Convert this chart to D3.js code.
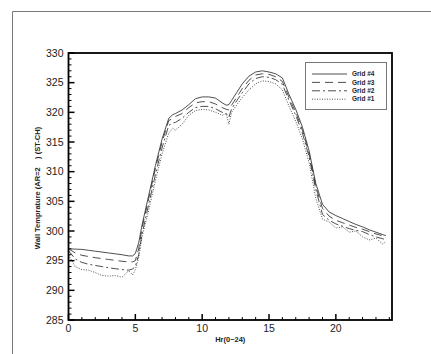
<!DOCTYPE html>
<html><head><meta charset="utf-8">
<script src="https://cdn.jsdelivr.net/npm/d3@7"></script>
<style>body{margin:0;background:#fff;} svg{display:block;font-family:"Liberation Sans",Arial,sans-serif;}</style>
</head><body>
<svg id="c" width="431" height="354"></svg>
<script>
const hours = [0,0.5,1,1.5,2,2.5,3,3.5,4,4.5,4.8,5,5.25,5.5,6,6.5,7,7.5,7.8,8,8.5,9,9.5,10,10.5,11,11.5,11.8,12,12.2,12.6,13,13.5,14,14.5,15,15.5,16,16.5,17,17.5,18,18.5,19,19.5,20,20.5,21,21.5,22,22.5,23,23.5,23.75];
const grid4 = [297.0,296.95,296.9,296.75,296.6,296.45,296.3,296.15,296.0,295.8,295.8,296.2,298.0,301.0,306.0,311.0,315.5,319.0,319.6,319.8,320.4,321.3,322.3,322.6,322.6,322.4,321.6,321.2,321.3,322.0,323.4,324.8,326.1,326.8,327.0,326.8,326.5,325.8,323.0,320.5,317.5,313.5,308.0,304.5,303.2,302.6,302.1,301.6,301.1,300.7,300.2,299.8,299.4,299.2];
const grid3 = [297.0,296.3,295.9,295.7,295.5,295.35,295.2,295.05,294.9,294.8,294.8,295.0,297.0,300.5,305.5,310.5,315.0,318.6,319.0,319.3,319.8,320.8,321.6,321.8,321.8,321.4,320.8,320.5,320.4,321.2,322.6,324.0,325.4,326.3,326.5,326.4,326.0,325.2,322.5,320.0,317.0,313.0,307.5,303.8,302.5,301.8,301.4,301.0,300.6,300.3,299.9,299.5,299.2,299.0];
const grid2 = [296.7,295.3,294.7,294.4,294.2,294.0,293.8,293.65,293.5,293.4,293.6,294.0,296.0,299.5,304.5,309.5,314.0,317.8,318.2,318.3,319.0,320.0,320.8,321.0,321.0,320.6,320.0,319.8,319.2,320.6,322.0,323.3,324.8,325.7,326.0,325.9,325.5,324.7,322.0,319.5,316.5,312.5,307.0,302.8,301.8,301.2,300.8,300.4,300.1,299.9,299.4,299.0,298.7,298.5];
const grid1 = [296.0,294.0,293.5,293.4,293.0,292.5,292.4,292.5,292.2,293.3,292.6,293.5,295.5,299.0,303.5,308.5,313.0,316.5,317.3,317.0,318.0,319.5,320.3,320.5,320.4,320.0,319.5,319.8,318.0,320.0,321.3,322.5,323.8,324.8,325.3,325.2,324.8,323.8,321.0,318.5,315.5,311.5,305.5,302.0,301.5,300.5,300.7,299.8,300.0,299.0,298.5,298.8,297.8,298.2];
const seriesNames = ["Grid #4","Grid #3","Grid #2","Grid #1"];
const seriesData = [grid4, grid3, grid2, grid1];
const xTicks = [0,5,10,15,20];
const yTicks = [285,290,295,300,305,310,315,320,325,330];
const xLabel = "Hr(0~24)";
const yLabel = "Wall Temprature (AR=2\u00a0\u00a0\u00a0\u00a0) (ST-CH)";

const dashes = [null, "8,5", "8,3,2,3", "1,1.5"];
const svg = d3.select("#c");
const L = 68.5, R = 392, T = 53, B = 320;
const x = d3.scaleLinear().domain([0, 24.2]).range([L, R]);
const y = d3.scaleLinear().domain([285, 330]).range([B, T]);

// outer frame
svg.append("path").attr("d", `M12.5,354 L12.5,11.5 L431,11.5`).attr("fill","none").attr("stroke","#777").attr("stroke-width",1);

// ticks
const g = svg.append("g");
const xMinor = d3.range(0, 25, 1).filter(v => v % 5 !== 0);
const yMinor = d3.range(285, 331, 1).filter(v => v % 5 !== 0);
g.selectAll(".xm").data(xMinor).join("line").attr("x1", d=>x(d)).attr("x2", d=>x(d)).attr("y1", B).attr("y2", B-3).attr("stroke","#000").attr("stroke-width",1);
g.selectAll(".ym").data(yMinor).join("line").attr("y1", d=>y(d)).attr("y2", d=>y(d)).attr("x1", L).attr("x2", L+3).attr("stroke","#000").attr("stroke-width",1);
g.selectAll(".xM").data(xTicks).join("line").attr("x1", d=>x(d)).attr("x2", d=>x(d)).attr("y1", B).attr("y2", B-6).attr("stroke","#000").attr("stroke-width",1.5);
g.selectAll(".yM").data(yTicks).join("line").attr("y1", d=>y(d)).attr("y2", d=>y(d)).attr("x1", L).attr("x2", L+6).attr("stroke","#000").attr("stroke-width",1.5);

// tick labels
g.selectAll(".xl").data(xTicks).join("text").attr("x", d=>x(d)).attr("y", B+12).attr("text-anchor","middle").attr("font-size",10.5).attr("fill","#222").text(d=>d);
g.selectAll(".yl").data(yTicks).join("text").attr("x", L-5).attr("y", d=>y(d)+3.7).attr("text-anchor","end").attr("font-size",10.5).attr("fill","#222").text(d=>d);

// lines
const line = d3.line().x((d,i)=>x(hours[i])).y(d=>y(d));
seriesData.forEach((s, k) => {
  svg.append("path").datum(s).attr("d", line).attr("fill","none").attr("stroke","#222").attr("stroke-width",0.8)
    .attr("stroke-dasharray", dashes[k]);
});

// plot frame
svg.append("rect").attr("x", L).attr("y", T).attr("width", R-L).attr("height", B-T).attr("fill","none").attr("stroke","#000").attr("stroke-width",1.8);

// axis titles
svg.append("text").attr("x", (L+R)/2).attr("y", 342).attr("text-anchor","middle").attr("font-size",7.5).attr("font-weight","bold").attr("fill","#222").text(xLabel);
svg.append("text").attr("transform", `translate(40,${188}) rotate(-90)`).attr("text-anchor","middle").attr("font-size",7.5).attr("font-weight","bold").attr("fill","#222").text(yLabel);

// legend
const lg = svg.append("g");
lg.append("rect").attr("x",305.5).attr("y",62.5).attr("width",81).attr("height",47).attr("fill","#fff").attr("stroke","#777").attr("stroke-width",1);
seriesNames.forEach((n,k) => {
  const yy = 74 + k*8.4;
  lg.append("line").attr("x1",312).attr("x2",347).attr("y1",yy).attr("y2",yy).attr("stroke","#222").attr("stroke-width",0.8).attr("stroke-dasharray", dashes[k]);
  lg.append("text").attr("x",352).attr("y",yy+2.2).attr("font-size",6.5).attr("font-weight","bold").attr("fill","#222").text(n);
});
</script>
</body></html>
